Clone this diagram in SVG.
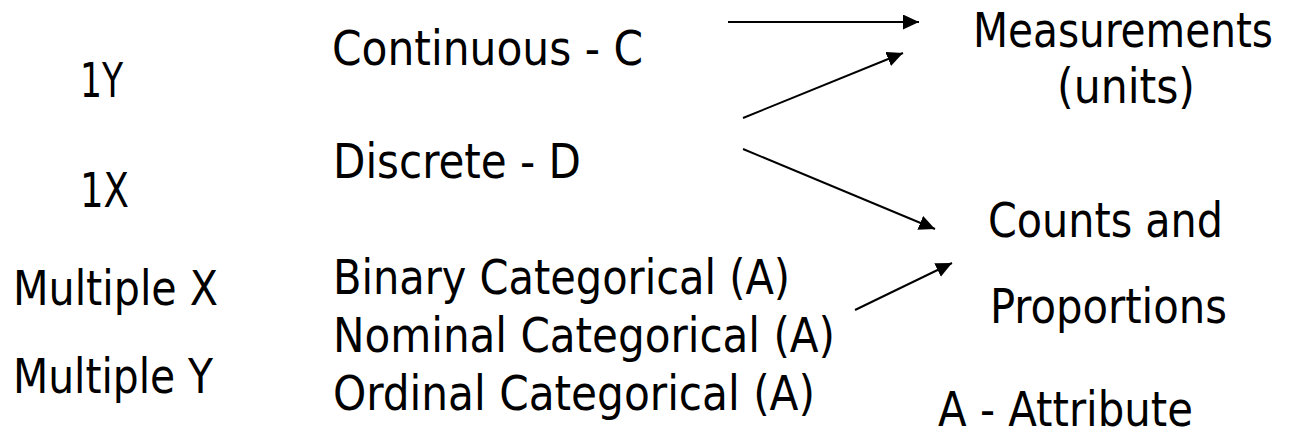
<svg xmlns="http://www.w3.org/2000/svg" width="1293" height="438" viewBox="0 0 1293 438">
  <style>
    text { font-family: "DejaVu Sans Condensed", "DejaVu Sans", sans-serif; font-size: 48px; fill: #000; }
    .conn line { stroke: #000; stroke-width: 2; fill: none; }
  </style>
  <defs>
    <marker id="arrow" markerUnits="userSpaceOnUse" markerWidth="17" markerHeight="16" refX="16" refY="7.5" orient="auto">
      <path d="M0,0 L16,7.5 L0,15 z" fill="#000"/>
    </marker>
  </defs>
  <rect width="1293" height="438" fill="#fff"/>

  <g id="label-1y"><text x="80" y="97" textLength="43" lengthAdjust="spacingAndGlyphs">1Y</text></g>
  <g id="label-1x"><text x="80" y="207" textLength="49" lengthAdjust="spacingAndGlyphs">1X</text></g>
  <g id="label-multx"><text x="13" y="305" textLength="205" lengthAdjust="spacingAndGlyphs">Multiple X</text></g>
  <g id="label-multy"><text x="13" y="393" textLength="200" lengthAdjust="spacingAndGlyphs">Multiple Y</text></g>

  <g id="node-continuous"><text x="332" y="65" textLength="311" lengthAdjust="spacingAndGlyphs">Continuous - C</text></g>
  <g id="node-discrete"><text x="333" y="178" textLength="248" lengthAdjust="spacingAndGlyphs">Discrete - D</text></g>
  <g id="node-categorical">
    <text x="333" y="294" textLength="457" lengthAdjust="spacingAndGlyphs">Binary Categorical (A)</text>
    <text x="333" y="352" textLength="502" lengthAdjust="spacingAndGlyphs">Nominal Categorical (A)</text>
    <text x="333" y="410" textLength="482" lengthAdjust="spacingAndGlyphs">Ordinal Categorical (A)</text>
  </g>

  <g id="node-measurements">
    <text x="973" y="47" textLength="300" lengthAdjust="spacingAndGlyphs">Measurements</text>
    <text x="1057" y="103" textLength="138" lengthAdjust="spacingAndGlyphs">(units)</text>
  </g>
  <g id="node-counts">
    <text x="988" y="237" textLength="235" lengthAdjust="spacingAndGlyphs">Counts and</text>
    <text x="990" y="323" textLength="237" lengthAdjust="spacingAndGlyphs">Proportions</text>
  </g>
  <g id="legend"><text x="938" y="426" textLength="255" lengthAdjust="spacingAndGlyphs">A - Attribute</text></g>

  <g id="connectors" class="conn">
    <line x1="728" y1="22" x2="919" y2="22" marker-end="url(#arrow)"/>
    <line x1="743" y1="118" x2="903" y2="53" marker-end="url(#arrow)"/>
    <line x1="743" y1="149" x2="935" y2="229" marker-end="url(#arrow)"/>
    <line x1="855" y1="310" x2="952" y2="263" marker-end="url(#arrow)"/>
  </g>
</svg>
